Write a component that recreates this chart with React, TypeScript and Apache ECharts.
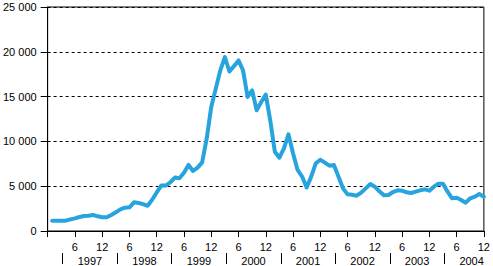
import React, { useEffect, useRef } from "react";
import * as echarts from "echarts";

const years = ["1997", "1998", "1999", "2000", "2001", "2002", "2003", "2004"];
const yTicks = [0, 5000, 10000, 15000, 20000, 25000];
const values1997 = [1150, 1150, 1150, 1150, 1300, 1410, 1560, 1670, 1710, 1785, 1640, 1530];
const values1998 = [1530, 1785, 2085, 2420, 2600, 2640, 3200, 3120, 3000, 2815, 3480, 4300];
const values1999 = [5070, 5070, 5440, 5960, 5890, 6500, 7370, 6700, 7070, 7660, 10300, 13850];
const values2000 = [15890, 17930, 19400, 17800, 18400, 19040, 17930, 14960, 15700, 13480, 14400, 15220];
const values2001 = [12300, 8850, 8180, 9220, 10780, 8670, 6810, 6070, 4850, 6070, 7550, 7950];
const values2002 = [7630, 7290, 7370, 6070, 4760, 4090, 4050, 3940, 4280, 4760, 5245, 4950];
const values2003 = [4430, 3980, 4020, 4350, 4540, 4500, 4320, 4240, 4390, 4540, 4650, 4500];
const values2004 = [4950, 5280, 5280, 4390, 3650, 3720, 3460, 3160, 3650, 3830, 4130, 3830];

const allValues = [
  ...values1997, ...values1998, ...values1999, ...values2000,
  ...values2001, ...values2002, ...values2003, ...values2004,
];

const FONT = "'Liberation Sans', Arial, sans-serif";

export default function App() {
  const ref = useRef<HTMLDivElement>(null);
  useEffect(() => {
    if (!ref.current) return;
    const chart = echarts.init(ref.current, null, { renderer: "svg" });
    const data = allValues.map((v, i) => [i + 1, v]);
    const sepValues = years.map((_, i) => 3.3 + 12 * i);
    const yearLabelValues = years.map((_, i) => 9.3 + 12 * i);
    chart.setOption({
      animation: false,
      grid: {
        left: 45, right: 7, top: 7, bottom: 35,
        show: true, borderColor: "#000", borderWidth: 1,
      },
      xAxis: [
        {
          type: "value", min: 0, max: 96, interval: 6, position: "bottom",
          axisLine: { show: true, lineStyle: { color: "#000", width: 1 } },
          axisTick: { show: true, length: 6, lineStyle: { color: "#000" } },
          axisLabel: {
            color: "#000", fontSize: 11, fontFamily: FONT, margin: 10,
            formatter: (v: number) => (v === 0 ? "" : v % 12 === 0 ? "12" : "6"),
          },
          splitLine: { show: false },
        },
        {
          type: "value", min: 0, max: 96, position: "bottom", offset: 22,
          axisLine: { show: false },
          axisTick: {
            show: true, length: 11, customValues: sepValues,
            lineStyle: { color: "#000" },
          },
          axisLabel: {
            show: true, color: "#000", fontSize: 11, fontFamily: FONT, margin: 2,
            customValues: yearLabelValues,
            formatter: (v: number) => years[Math.round((v - 9.3) / 12)] ?? "",
          },
          splitLine: { show: false },
        },
      ],
      yAxis: {
        type: "value", min: yTicks[0], max: yTicks[yTicks.length - 1], interval: 5000,
        axisLine: { show: true, lineStyle: { color: "#000", width: 1 } },
        axisTick: { show: true, length: 7, lineStyle: { color: "#000" } },
        axisLabel: {
          color: "#000", fontSize: 11, fontFamily: FONT, margin: 11,
          formatter: (v: number) => (v >= 1000 ? `${Math.floor(v / 1000)} ${String(v % 1000).padStart(3, "0")}` : String(v)),
        },
        splitLine: { show: true, lineStyle: { color: "#000", type: [3, 3], width: 1 } },
      },
      series: [
        {
          type: "line", xAxisIndex: 0, data, showSymbol: false, symbol: "none",
          lineStyle: { color: "#27a4dd", width: 4, join: "round", cap: "round" },
          z: 3,
        },
      ],
    });
    return () => chart.dispose();
  }, []);
  return (
    <div
      ref={ref}
      style={{ position: "absolute", left: 0, top: 0, width: 493, height: 266, background: "#fff" }}
    />
  );
}
